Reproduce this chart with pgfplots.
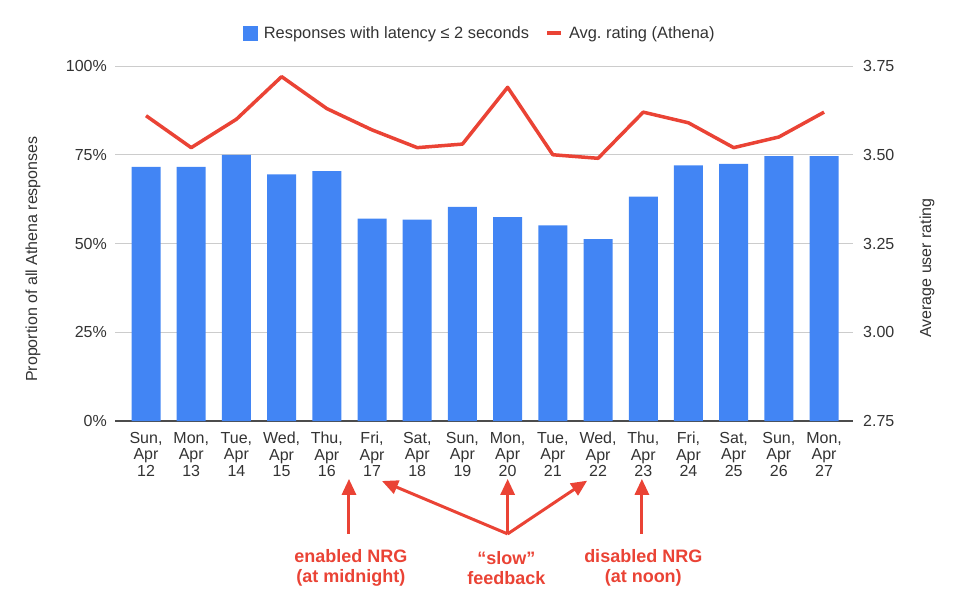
\documentclass[border=0pt]{standalone}
\usepackage{fontspec}
\setmainfont{Liberation Sans}
\usepackage{pgfplots}
\pgfplotsset{compat=1.18}
\usetikzlibrary{arrows.meta}
\definecolor{gblue}{HTML}{4285F4}
\definecolor{gred}{HTML}{EA4335}
\definecolor{txt}{HTML}{333333}
\definecolor{gridc}{HTML}{CCCCCC}
\newcommand{\tfont}{\fontsize{16}{16.5}\selectfont}
\newcommand{\lfont}{\fontsize{16.4}{18}\selectfont}
\frenchspacing
\begin{document}
\begin{tikzpicture}
\useasboundingbox (0,0) rectangle (960pt,606pt);
\begin{axis}[
  at={(115pt,185pt)}, anchor=south west,
  scale only axis, width=738pt, height=355pt,
  xmin=-0.686, xmax=15.64, ymin=0, ymax=100,
  axis line style={draw=none},
  tick style={draw=none},
  xtick={0,...,15},
  xticklabels={{Sun,\\Apr\\12},{Mon,\\Apr\\13},{Tue,\\Apr\\14},{Wed,\\Apr\\15},{Thu,\\Apr\\16},{Fri,\\Apr\\17},{Sat,\\Apr\\18},{Sun,\\Apr\\19},{Mon,\\Apr\\20},{Tue,\\Apr\\21},{Wed,\\Apr\\22},{Thu,\\Apr\\23},{Fri,\\Apr\\24},{Sat,\\Apr\\25},{Sun,\\Apr\\26},{Mon,\\Apr\\27}},
  xticklabel style={align=center, inner sep=0pt, yshift=-11pt, font=\tfont, text=txt},
  ytick={0,25,50,75,100},
  yticklabels={0\%,25\%,50\%,75\%,100\%},
  yticklabel style={inner sep=0pt, xshift=-8pt, font=\tfont, text=txt},
  ymajorgrids, grid style={draw=gridc, line width=0.8pt},
  extra y ticks={0}, extra y tick labels={},
  extra y tick style={grid style={draw=black!70, line width=1.1pt}},
  ylabel={Proportion of all Athena responses},
  ylabel style={at={(rel axis cs:-0.111,0.456)}, anchor=center, font=\tfont, text=txt},
  clip=false,
]
\addplot[ybar, bar width=29pt, fill=gblue, draw=none] coordinates {
(0,71.6) (1,71.6) (2,75.0) (3,69.5) (4,70.4) (5,57.0) (6,56.7) (7,60.3)
(8,57.4) (9,55.1) (10,51.2) (11,63.2) (12,72.0) (13,72.4) (14,74.6) (15,74.6)};
% annotations
\begin{scope}[gred, line width=3pt, -{Triangle[width=14pt,length=16pt]}]
\draw (axis cs:4.49,-31.8) -- (axis cs:4.49,-16.3);
\draw (axis cs:8.0,-31.8) -- (axis cs:8.0,-16.3);
\draw (axis cs:8.0,-31.8) -- (axis cs:5.22,-16.9);
\draw (axis cs:8.0,-31.8) -- (axis cs:9.76,-16.8);
\draw (axis cs:10.97,-31.8) -- (axis cs:10.97,-16.3);
\end{scope}
\begin{scope}[every node/.style={text=gred, font=\bfseries\fontsize{18}{20}\selectfont, align=center}]
\node at (axis cs:4.53,-41.4) {enabled NRG\\(at midnight)};
\node at (axis cs:7.97,-41.4) {“slow”\\feedback};
\node at (axis cs:11.0,-41.4) {disabled NRG\\(at noon)};
\end{scope}
\end{axis}
\begin{axis}[
  at={(115pt,185pt)}, anchor=south west,
  scale only axis, width=738pt, height=355pt,
  xmin=-0.686, xmax=15.64, ymin=2.75, ymax=3.75,
  axis line style={draw=none},
  tick style={draw=none},
  xtick=\empty,
  ytick={2.75,3,3.25,3.5,3.75},
  yticklabels={2.75,3.00,3.25,3.50,3.75},
  yticklabel pos=right,
  yticklabel style={inner sep=0pt, xshift=10pt, font=\tfont, text=txt},
  ylabel={Average user rating},
  ylabel style={at={(rel axis cs:1.1003,0.431)}, anchor=center, font=\tfont, text=txt},
  legend columns=2,
  legend cell align=left,
  legend style={at={(0.4946,1)}, anchor=center, yshift=33pt, draw=none, fill=none,
    font=\lfont, text=txt,
    /tikz/every odd column/.append style={column sep=4pt},
    /tikz/every even column/.append style={column sep=14pt}},
  clip=false,
]
\addlegendimage{legend image code/.code={\fill[gblue] (0pt,-7pt) rectangle (14pt,7pt);}}
\addlegendentry{Responses with latency ≤ 2 seconds}
\addplot[gred, line width=3.5pt, line join=round,
  legend image code/.code={\draw[gred, line width=4pt] (0pt,0pt) -- (14pt,0pt);}] coordinates {
(0,3.61) (1,3.52) (2,3.60) (3,3.72) (4,3.63) (5,3.57) (6,3.52) (7,3.53)
(8,3.69) (9,3.50) (10,3.49) (11,3.62) (12,3.59) (13,3.52) (14,3.55) (15,3.62)};
\addlegendentry{Avg.\ rating (Athena)}
\end{axis}
\end{tikzpicture}
\end{document}
